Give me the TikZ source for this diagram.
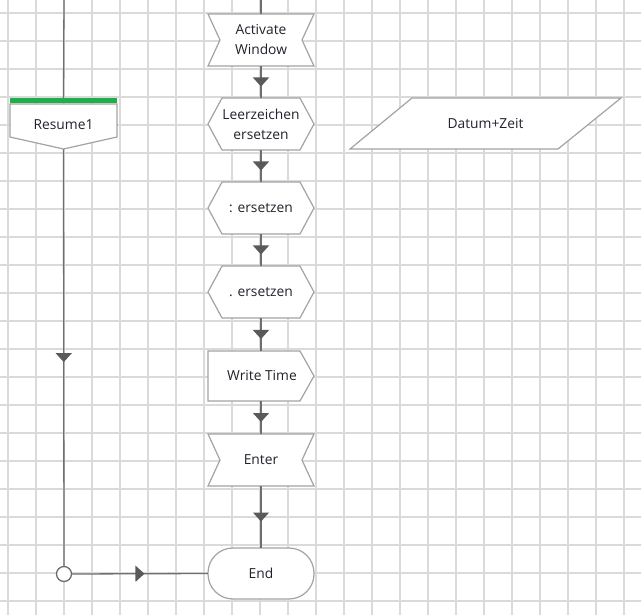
\documentclass[tikz,border=0pt]{standalone}
\usepackage{fontspec}
\setmainfont{Open Sans}
\usetikzlibrary{arrows.meta,decorations.markings,calc}
\definecolor{gridc}{HTML}{DADADA}
\definecolor{shpc}{HTML}{A3A3A3}
\definecolor{linec}{HTML}{6E6E6E}
\definecolor{tipc}{HTML}{5A5A5A}
\definecolor{txtc}{HTML}{22222C}
\definecolor{greenbar}{HTML}{1DB04A}
\tikzset{
  box/.style={draw=none,minimum width=106pt,minimum height=52pt,inner sep=0pt,
    align=center,text=txtc,font=\fontsize{13.8}{20}\selectfont},
  shp/.style={draw=shpc,line width=1.2pt,fill=white,line join=miter},
  conn/.style={draw=linec,line width=1.3pt},
  midarrow/.style={postaction={decorate},decoration={markings,
    mark=at position 0.5 with {\arrow[xshift=4.5pt,fill=tipc,draw=tipc]{Triangle[width=16pt,length=9pt]}}}}
}
\begin{document}
\begin{tikzpicture}[x=1pt,y=-1pt]
\useasboundingbox (0,0) rectangle (641,615);
\fill[white] (0,0) rectangle (641,615);
% grid
\foreach \i in {0,...,22} \draw[gridc,line width=1.2pt] (8+28*\i,0) -- (8+28*\i,615);
\foreach \j in {0,...,21} \draw[gridc,line width=1.2pt] (0,13+28*\j) -- (641,13+28*\j);

% shapes outlines
% Activate Window (notched)
\draw[shp] (208,14) -- (314,14) -- (302,40) -- (314,66) -- (208,66) -- (220,40) -- cycle;
% Leerzeichen ersetzen (hexagon)
\draw[shp] (208,124) -- (222,98) -- (300,98) -- (314,124) -- (300,150) -- (222,150) -- cycle;
% : ersetzen
\draw[shp] (208,208) -- (222,182) -- (300,182) -- (314,208) -- (300,234) -- (222,234) -- cycle;
% . ersetzen
\draw[shp] (208,292) -- (222,266) -- (300,266) -- (314,292) -- (300,318) -- (222,318) -- cycle;
% Write Time
\draw[shp] (208,351) -- (300,351) -- (314,376) -- (300,401) -- (208,401) -- cycle;
% Enter (notched)
\draw[shp] (208,434) -- (314,434) -- (302,460) -- (314,486) -- (208,486) -- (220,460) -- cycle;
% End (stadium)
\draw[shp,rounded corners=25pt] (208,548) rectangle (314,599);
% Datum+Zeit
\draw[shp] (412,98) -- (621,98) -- (558,149) -- (350,149) -- cycle;
% Resume1
\draw[shp] (10,104) -- (117,104) -- (117,137) -- (63.5,149) -- (10,137) -- cycle;
\draw[greenbar,line width=5pt] (10,100.5) -- (117,100.5);

% nodes
\node[box] (aw) at (261,40) {Activate\\Window};
\node[box] (lz) at (261,124) {Leerzeichen\\ersetzen};
\node[box] (dp) at (261,208) {: ersetzen};
\node[box] (pe) at (261,292) {. ersetzen};
\node[box,minimum height=50pt] (wt) at (261,376) {\hspace*{2pt}Write Time};
\node[box] (en) at (261,460) {Enter};
\node[box,minimum height=51pt] (ed) at (261,573.5) {End};
\node[box,minimum width=150pt,minimum height=51pt] (dz) at (485.5,123.5) {Datum+Zeit};
\node[box,minimum width=107pt,minimum height=51pt,anchor=north] (rs) at (63.5,98) {};
\node[text=txtc,font=\fontsize{13.8}{20}\selectfont] at (63.5,125) {Resume1};
\node[draw=linec,line width=1.3pt,fill=white,circle,minimum size=15pt,inner sep=0pt] (jn) at (64,574) {};
\coordinate (topL) at (64,0);
\coordinate (topM) at (261,0);

% connectors
\draw[conn] (topL) -- (rs.north);
\draw[conn] (topM) -- (aw.north);
\draw[conn,midarrow] (aw.south) -- (lz.north);
\draw[conn,midarrow] (lz.south) -- (dp.north);
\draw[conn,midarrow] (dp.south) -- (pe.north);
\draw[conn,midarrow] (pe.south) -- (wt.north);
\draw[conn,midarrow] (wt.south) -- (en.north);
\draw[conn,midarrow] (en.south) -- (ed.north);
\draw[conn,midarrow] (rs.south) -- (jn.north);
\draw[conn,midarrow] (jn.east) -- (ed.west);
\end{tikzpicture}
\end{document}
